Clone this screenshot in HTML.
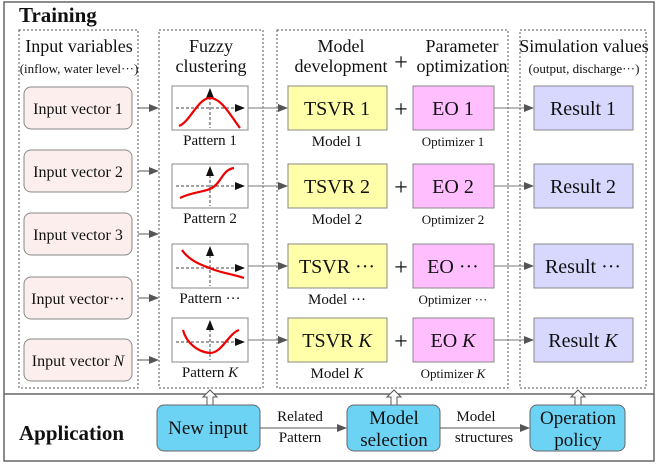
<!DOCTYPE html>
<html><head><style>body{margin:0;background:#fff}svg{display:block;font-family:"Liberation Serif","Times New Roman",serif}svg text{font-family:"Liberation Serif","Times New Roman",serif;fill:#111}</style></head><body>
<svg width="663" height="464" viewBox="0 0 663 464" xmlns="http://www.w3.org/2000/svg" font-family="Liberation Serif, serif">
<defs>
<marker id="a" markerWidth="10" markerHeight="8" refX="9" refY="4" orient="auto" markerUnits="userSpaceOnUse"><path d="M0,0L10,4L0,8z" fill="#555"/></marker>
<g id="ua"><path d="M-3,0V-8H-7L0,-15L7,-8H3V0Z" fill="#fff" stroke="#555" stroke-width="1"/></g>
</defs>
<rect x="4" y="2" width="650" height="459" fill="none" stroke="#666" stroke-width="1.5"/>
<line x1="4" y1="394" x2="654" y2="394" stroke="#666" stroke-width="1.5"/>
<text x="19" y="22" font-size="21" font-weight="bold">Training</text>
<g fill="none" stroke="#555" stroke-dasharray="2,2" stroke-width="1">
<rect x="19" y="30" width="119" height="358"/><rect x="159" y="30" width="104" height="358"/>
<rect x="277" y="30" width="231" height="358"/><rect x="520" y="30" width="126" height="358"/></g>
<g font-size="18" text-anchor="middle">
<text x="79" y="52">Input variables</text>
<text x="211" y="52">Fuzzy</text><text x="211" y="72">clustering</text>
<text x="341" y="52">Model</text><text x="341" y="72">development</text>
<text x="462" y="52">Parameter</text><text x="462" y="72">optimization</text>
<text x="584" y="52">Simulation values</text>
<text x="401" y="70" font-size="24">+</text>
</g>
<text x="79" y="73" font-size="13" text-anchor="middle">(inflow, water level···)</text>
<text x="584" y="73" font-size="13" text-anchor="middle">(output, discharge···)</text>
<g stroke="#888" fill="#fdeeee">
<rect x="24" y="87" width="108" height="42" rx="7"/><rect x="24" y="150" width="108" height="42" rx="7"/>
<rect x="24" y="213" width="108" height="42" rx="7"/><rect x="24" y="277" width="108" height="42" rx="7"/>
<rect x="24" y="339" width="108" height="42" rx="7"/></g>
<g font-size="16" text-anchor="middle">
<text x="78" y="114">Input vector 1</text><text x="78" y="177">Input vector 2</text>
<text x="78" y="240">Input vector 3</text><text x="78" y="304">Input vector···</text>
<text x="78" y="366">Input vector <tspan font-style="italic">N</tspan></text></g>
<g stroke="#555" marker-end="url(#a)">
<line x1="138" y1="108" x2="158" y2="108"/><line x1="138" y1="171" x2="158" y2="171"/>
<line x1="138" y1="234" x2="158" y2="234"/><line x1="138" y1="298" x2="158" y2="298"/>
<line x1="138" y1="360" x2="158" y2="360"/></g>
<g fill="#fff" stroke="#888"><rect x="172" y="86" width="76" height="44"/><rect x="172" y="164" width="76" height="44"/><rect x="172" y="244" width="76" height="44"/><rect x="172" y="318" width="76" height="44"/></g>
<g stroke="#444" stroke-dasharray="3,2" fill="none">
<path d="M176,108H238M210,92V128"/><path d="M176,186H238M210,170V206"/><path d="M176,268H238M210,250V286"/><path d="M176,342H238M210,324V360"/></g>
<g fill="#111"><path d="M235,104L245,108L235,112z M206,98L210,88L214,98z"/>
<path d="M235,182L245,186L235,190z M206,176L210,166L214,176z"/>
<path d="M235,264L245,268L235,272z M206,256L210,246L214,256z"/>
<path d="M235,338L245,342L235,346z M206,330L210,320L214,330z"/></g>
<g stroke="#e00" stroke-width="2.2" fill="none">
<path d="M179,126C190,122 198,98 210,98C222,98 232,118 240,128"/>
<path d="M180,198C192,192 205,192 212,188C222,182 222,170 234,168"/>
<path d="M182,250C190,262 205,266 212,269C222,273 232,274 244,278"/>
<path d="M183,330C186,342 197,352 210,353C222,353 228,334 239,330"/></g>
<g font-size="15" text-anchor="middle">
<text x="210" y="145">Pattern 1</text><text x="210" y="223">Pattern 2</text>
<text x="210" y="303">Pattern ···</text><text x="210" y="377">Pattern <tspan font-style="italic">K</tspan></text></g>
<g stroke="#777" marker-end="url(#a)">
<line x1="248" y1="108" x2="287" y2="108"/><line x1="248" y1="186" x2="287" y2="186"/>
<line x1="248" y1="266" x2="287" y2="266"/><line x1="248" y1="340" x2="287" y2="340"/>
<line x1="494" y1="108" x2="533" y2="108"/><line x1="494" y1="186" x2="533" y2="186"/>
<line x1="494" y1="266" x2="533" y2="266"/><line x1="494" y1="340" x2="533" y2="340"/></g>
<g stroke="#888">
<g fill="#ffffaa"><rect x="288" y="86" width="99" height="44"/><rect x="288" y="164" width="99" height="44"/><rect x="288" y="244" width="99" height="44"/><rect x="288" y="318" width="99" height="44"/></g>
<g fill="#ffbfff"><rect x="413" y="86" width="81" height="44"/><rect x="413" y="164" width="81" height="44"/><rect x="413" y="244" width="81" height="44"/><rect x="413" y="318" width="81" height="44"/></g>
<g fill="#d8d8ff"><rect x="534" y="86" width="99" height="44"/><rect x="534" y="164" width="99" height="44"/><rect x="534" y="244" width="99" height="44"/><rect x="534" y="318" width="99" height="44"/></g></g>
<g font-size="20" text-anchor="middle">
<text x="337" y="115">TSVR 1</text><text x="337" y="193">TSVR 2</text><text x="337" y="273">TSVR ···</text><text x="337" y="347">TSVR <tspan font-style="italic">K</tspan></text>
<text x="453" y="115">EO 1</text><text x="453" y="193">EO 2</text><text x="453" y="273">EO ···</text><text x="453" y="347">EO <tspan font-style="italic">K</tspan></text>
<text x="583" y="115">Result 1</text><text x="583" y="193">Result 2</text><text x="583" y="273">Result ···</text><text x="583" y="347">Result <tspan font-style="italic">K</tspan></text>
<text x="401" y="117" font-size="24">+</text><text x="401" y="195" font-size="24">+</text><text x="401" y="275" font-size="24">+</text><text x="401" y="349" font-size="24">+</text></g>
<g font-size="15" text-anchor="middle">
<text x="337" y="146">Model 1</text><text x="337" y="224">Model 2</text><text x="337" y="304">Model ···</text><text x="337" y="378">Model <tspan font-style="italic">K</tspan></text></g>
<g font-size="13" text-anchor="middle">
<text x="453" y="146">Optimizer 1</text><text x="453" y="224">Optimizer 2</text><text x="453" y="304">Optimizer ···</text><text x="453" y="378">Optimizer <tspan font-style="italic">K</tspan></text></g>
<use href="#ua" x="210" y="405"/><use href="#ua" x="394" y="405"/><use href="#ua" x="578" y="405"/>
<text x="19" y="440" font-size="21" font-weight="bold">Application</text>
<g stroke="#666" fill="#6dd3f5">
<rect x="157" y="405" width="103" height="46" rx="7"/><rect x="347" y="405" width="93" height="46" rx="7"/><rect x="530" y="405" width="95" height="46" rx="7"/></g>
<g font-size="19" text-anchor="middle">
<text x="208" y="434">New input</text><text x="394" y="424">Model</text><text x="394" y="446">selection</text>
<text x="578" y="424">Operation</text><text x="578" y="446">policy</text></g>
<g stroke="#555" marker-end="url(#a)"><line x1="260" y1="428" x2="346" y2="428"/><line x1="440" y1="428" x2="529" y2="428"/></g>
<g font-size="15" text-anchor="middle"><text x="300" y="421">Related</text><text x="300" y="442">Pattern</text>
<text x="476" y="421">Model</text><text x="484" y="442">structures</text></g>
</svg></body></html>
